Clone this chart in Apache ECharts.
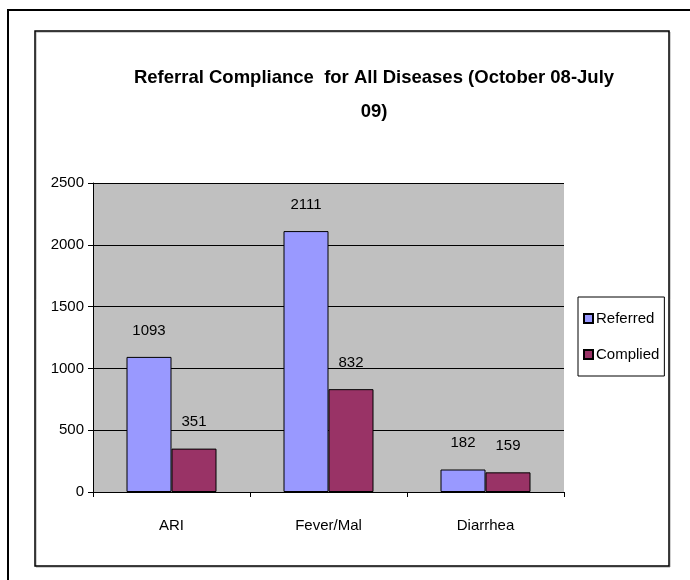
<!DOCTYPE html>
<html>
<head>
<meta charset="utf-8">
<style>
html, body { margin: 0; padding: 0; background: #fff; }
#chart-panel { position: absolute; left: 0; top: 0; width: 690px; height: 580px; }
</style>
<script src="https://cdn.jsdelivr.net/npm/echarts@6/dist/echarts.min.js"></script>
</head>
<body>
<div id="chart-panel"></div>
<script type="text/javascript">
// data
var diseases = ['ARI', 'Fever/Mal', 'Diarrhea'];
var referred = [1093, 2111, 182];
var complied = [351, 832, 159];
var yTicks = [0, 500, 1000, 1500, 2000, 2500];

var font = '"Liberation Sans Narrow", "Arial Narrow", "Liberation Sans", Arial, sans-serif';

var myChart = echarts.init(document.getElementById('chart-panel'));

var option = {
    backgroundColor: '#fff',
    textStyle: { fontFamily: font, color: '#000' },
    title: {
        text: 'Referral Compliance  for All Diseases (October 08-July\n09)',
        left: 369,
        textAlign: 'center',
        top: 56,
        textStyle: {
            fontFamily: font,
            fontWeight: 'bold',
            fontSize: 18.5,
            lineHeight: 34,
            color: '#000'
        }
    },
    // chart borders
    graphic: [
        {
            type: 'rect',
            shape: { x: 8, y: 10, width: 700, height: 600 },
            style: { fill: null, stroke: '#000', lineWidth: 2 },
            silent: true
        },
        {
            type: 'rect',
            shape: { x: 36, y: 32, width: 634, height: 535 },
            style: { fill: null, stroke: '#a0a0a0', lineWidth: 1 },
            silent: true
        },
        {
            type: 'rect',
            shape: { x: 35, y: 31, width: 634, height: 535 },
            style: { fill: null, stroke: '#000', lineWidth: 1.5 },
            silent: true
        }
    ],
    legend: {
        data: ['Referred', 'Complied'],
        orient: 'vertical',
        left: 578,
        top: 297,
        padding: [14, 5, 14, 5],
        itemWidth: 9,
        itemHeight: 9,
        itemGap: 21,
        icon: 'rect',
        backgroundColor: '#fff',
        borderColor: '#000',
        borderWidth: 1,
        textStyle: { fontFamily: font, fontSize: 15, color: '#000', padding: [0, 0, 0, -2] }
    },
    grid: {
        left: 93,
        top: 183,
        right: 126,
        bottom: 88,
        show: true,
        backgroundColor: '#c0c0c0',
        borderWidth: 0
    },
    xAxis: {
        type: 'category',
        data: diseases,
        axisLine: { lineStyle: { color: '#000', width: 1 } },
        axisTick: { show: true, length: 5, lineStyle: { color: '#000' } },
        axisLabel: { fontFamily: font, fontSize: 15, color: '#000', margin: 26 }
    },
    yAxis: {
        type: 'value',
        min: yTicks[0],
        max: yTicks[yTicks.length - 1],
        interval: 500,
        axisLine: { show: true, lineStyle: { color: '#000', width: 1 } },
        axisTick: { show: true, length: 5, lineStyle: { color: '#000' } },
        axisLabel: {
            fontFamily: font, fontSize: 15, color: '#000', margin: 9,
            formatter: function (v) { return String(v); }
        },
        splitLine: { show: true, lineStyle: { color: '#000', width: 1 } }
    },
    series: [
        {
            name: 'Referred',
            type: 'bar',
            data: referred,
            barWidth: 45,
            barGap: '0%',
            itemStyle: { color: '#9999ff', borderColor: '#000', borderWidth: 1 },
            label: { show: true, position: 'top', distance: 19, fontFamily: font, fontSize: 15, color: '#000' }
        },
        {
            name: 'Complied',
            type: 'bar',
            data: complied,
            barWidth: 45,
            barGap: '0%',
            itemStyle: { color: '#993366', borderColor: '#000', borderWidth: 1 },
            label: { show: true, position: 'top', distance: 19, fontFamily: font, fontSize: 15, color: '#000' }
        }
    ]
};

myChart.setOption(option);
</script>
</body>
</html>
